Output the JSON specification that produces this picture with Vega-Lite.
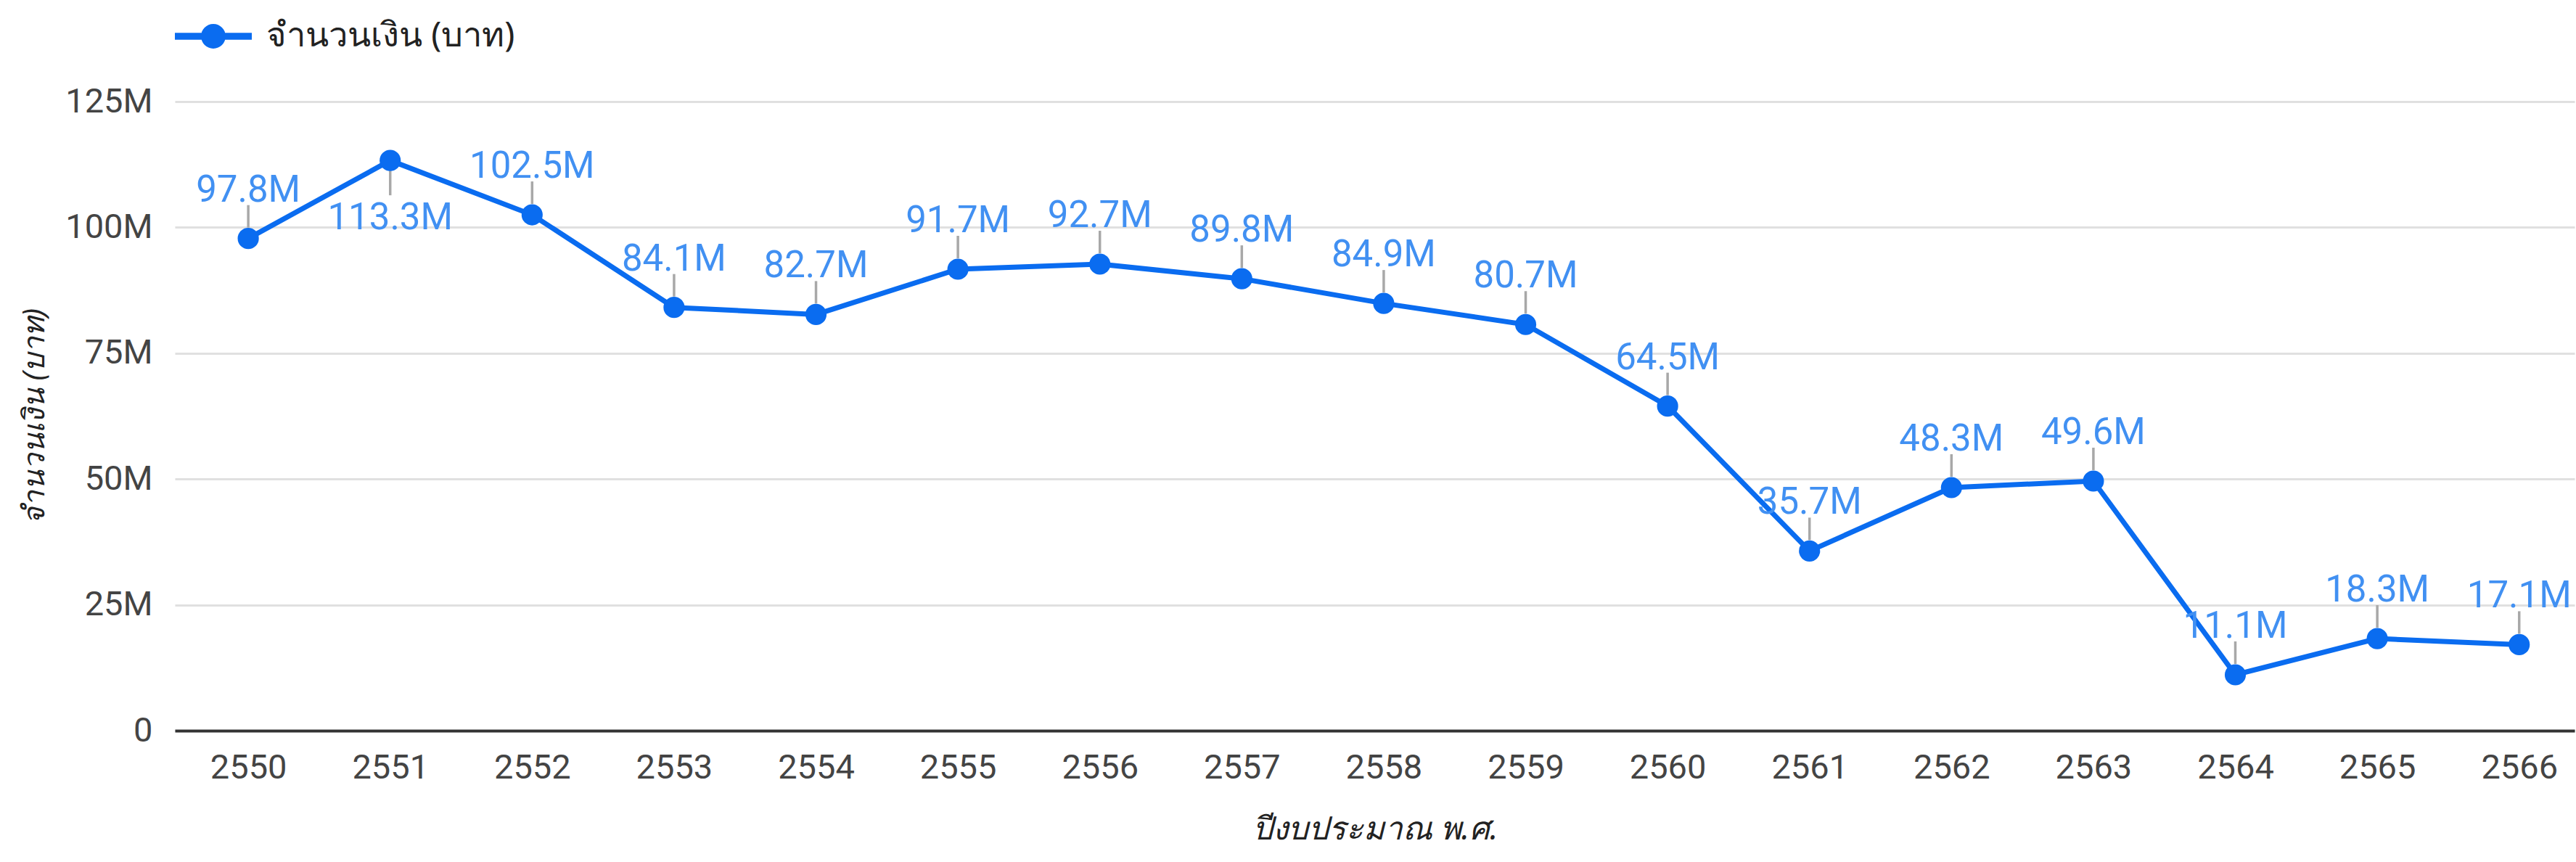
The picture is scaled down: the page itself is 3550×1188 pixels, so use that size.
{
  "$schema": "https://vega.github.io/schema/vega-lite/v6.json",
  "autosize": {"type": "none"},
  "padding": {"left": 241, "top": 140, "right": 2, "bottom": 181},
  "width": 3307,
  "height": 867,
  "background": "white",
  "config": {
    "view": {"stroke": null},
    "font": "Roboto",
    "axis": {"labelFont": "Roboto", "titleFont": "Noto Sans"}
  },
  "data": {
    "values": [
      {"year": 2550, "amount": 97800000},
      {"year": 2551, "amount": 113300000},
      {"year": 2552, "amount": 102500000},
      {"year": 2553, "amount": 84100000},
      {"year": 2554, "amount": 82700000},
      {"year": 2555, "amount": 91700000},
      {"year": 2556, "amount": 92700000},
      {"year": 2557, "amount": 89800000},
      {"year": 2558, "amount": 84900000},
      {"year": 2559, "amount": 80700000},
      {"year": 2560, "amount": 64500000},
      {"year": 2561, "amount": 35700000},
      {"year": 2562, "amount": 48300000},
      {"year": 2563, "amount": 49600000},
      {"year": 2564, "amount": 11100000},
      {"year": 2565, "amount": 18300000},
      {"year": 2566, "amount": 17100000}
    ]
  },
  "encoding": {
    "x": {
      "field": "year",
      "type": "quantitative",
      "scale": {"domain": [2549.483, 2566.39], "nice": false, "zero": false},
      "axis": {
        "values": [2550, 2551, 2552, 2553, 2554, 2555, 2556, 2557, 2558, 2559, 2560, 2561, 2562, 2563, 2564, 2565, 2566],
        "format": "d",
        "grid": false,
        "ticks": false,
        "domain": true,
        "domainColor": "#333333",
        "domainWidth": 4,
        "labelFontSize": 47,
        "labelColor": "#444444",
        "labelPadding": 28,
        "labelFlush": false,
        "labelOverlap": false,
        "title": "ปีงบประมาณ พ.ศ.",
        "titleFontSize": 44,
        "titleFontStyle": "italic",
        "titleFontWeight": "normal",
        "titleColor": "#222222",
        "titlePadding": 40
      }
    },
    "y": {
      "field": "amount",
      "type": "quantitative",
      "scale": {"domain": [0, 125000000], "nice": false},
      "axis": {
        "values": [0, 25000000, 50000000, 75000000, 100000000, 125000000],
        "labelExpr": "datum.value == 0 ? '0' : format(datum.value, '~s')",
        "grid": true,
        "gridColor": "#e0e0e0",
        "gridWidth": 3,
        "ticks": false,
        "domain": false,
        "labelFontSize": 47,
        "labelColor": "#444444",
        "labelPadding": 31,
        "title": "จำนวนเงิน (บาท)",
        "titleFontSize": 41,
        "titleFontStyle": "italic",
        "titleFontWeight": "normal",
        "titleColor": "#222222",
        "titlePadding": 20
      }
    }
  },
  "layer": [
    {
      "mark": {"type": "line", "color": "#0a6cf0", "strokeWidth": 7}
    },
    {
      "transform": [{"filter": "datum.year != 2551"}],
      "mark": {"type": "rule", "color": "#a8a8a8", "strokeWidth": 3.5, "yOffset": -15, "y2Offset": -46},
      "encoding": {"y2": {"field": "amount"}}
    },
    {
      "transform": [{"filter": "datum.year == 2551"}],
      "mark": {"type": "rule", "color": "#a8a8a8", "strokeWidth": 3.5, "yOffset": 13, "y2Offset": 48},
      "encoding": {"y2": {"field": "amount"}}
    },
    {
      "mark": {"type": "point", "filled": true, "size": 850, "opacity": 1},
      "encoding": {
        "color": {
          "datum": "จำนวนเงิน (บาท)",
          "type": "nominal",
          "scale": {"range": ["#0a6cf0"]},
          "legend": {
            "title": null,
            "orient": "none",
            "legendX": 0,
            "legendY": -143,
            "padding": 0,
            "symbolType": "M-1,-0.09L1,-0.09L1,0.09L-1,0.09Z M-0.32,0A0.32,0.32 0 1,1 0.32,0A0.32,0.32 0 1,1 -0.32,0Z",
            "symbolSize": 11236,
            "symbolStrokeWidth": 0,
            "symbolOpacity": 1,
            "labelFontSize": 47,
            "labelFont": "Noto Sans",
            "labelColor": "#222222",
            "labelOffset": 20,
            "labelLimit": 0
          }
        }
      }
    },
    {
      "transform": [{"filter": "datum.year != 2551"}],
      "mark": {"type": "text", "baseline": "alphabetic", "align": "center", "dy": -51, "fontSize": 51, "color": "#4190f2"},
      "encoding": {"text": {"field": "amount", "type": "quantitative", "format": ".4~s"}}
    },
    {
      "transform": [{"filter": "datum.year == 2551"}],
      "mark": {"type": "text", "baseline": "alphabetic", "align": "center", "dy": 95, "fontSize": 51, "color": "#4190f2"},
      "encoding": {"text": {"field": "amount", "type": "quantitative", "format": ".4~s"}}
    }
  ]
}
